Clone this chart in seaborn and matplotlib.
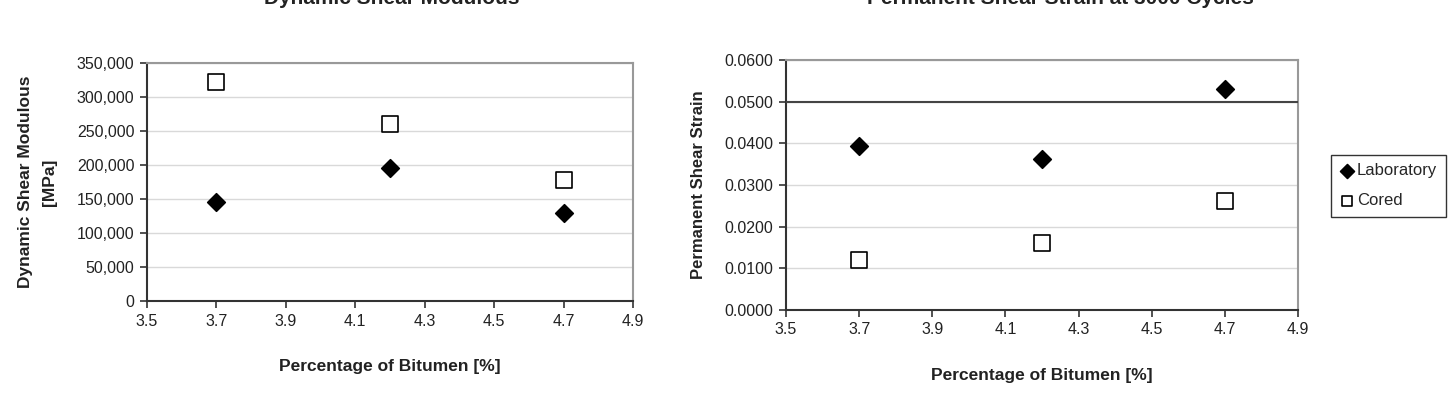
import matplotlib
matplotlib.use('Agg')
import matplotlib.pyplot as plt
import seaborn as sns
import pandas as pd
from matplotlib.ticker import FuncFormatter

# data
bitumen = [3.7, 4.2, 4.7]
modulus_lab = [145500, 195000, 129500]
modulus_cored = [321500, 261000, 177500]
strain_lab = [0.0394, 0.0363, 0.0531]
strain_cored = [0.0119, 0.0161, 0.0261]

sns.set_theme(style='white')
plt.rcParams['font.family'] = ['Liberation Sans', 'DejaVu Sans']

fig = plt.figure(figsize=(14.53, 3.99), dpi=100)
ax1 = fig.add_axes([147 / 1453, 1 - 301 / 399, (633 - 147) / 1453, (301 - 63) / 399])
ax2 = fig.add_axes([786 / 1453, 1 - 310 / 399, (1298 - 786) / 1453, (310 - 60) / 399])

series = [
    ('Laboratory', 'D', 'black', 80),
    ('Cored', 's', 'white', 130),
]


def draw(ax, lab, cored):
    for (name, mk, fc, sz), vals in zip(series, [lab, cored]):
        df = pd.DataFrame({'x': bitumen, 'y': vals})
        sns.scatterplot(data=df, x='x', y='y', ax=ax, marker=mk, s=sz,
                        color=fc, edgecolor='black', linewidth=1.2,
                        label=name, zorder=5)


draw(ax1, modulus_lab, modulus_cored)
draw(ax2, strain_lab, strain_cored)

for ax in (ax1, ax2):
    ax.set_xlim(3.5, 4.9)
    ax.set_xticks([3.5, 3.7, 3.9, 4.1, 4.3, 4.5, 4.7, 4.9])
    ax.xaxis.set_major_formatter(FuncFormatter(lambda v, p: f'{v:.1f}'))
    ax.grid(axis='y', color='#d9d9d9', linewidth=1)
    ax.set_axisbelow(True)
    for s in ('top', 'right'):
        ax.spines[s].set_color('#999999')
        ax.spines[s].set_linewidth(1.5)
    for s in ('left', 'bottom'):
        ax.spines[s].set_color('#333333')
        ax.spines[s].set_linewidth(1.5)
    ax.tick_params(axis='both', which='major', direction='out', length=5,
                   width=1.2, color='#333333', labelsize=11.5, labelcolor='#222222',
                   left=True, bottom=True, pad=4)
    ax.set_xlabel('Percentage of Bitumen [%]', fontsize=12.5, fontweight='bold',
                  color='#222222', labelpad=22)

ax1.set_ylim(0, 350000)
ax1.set_yticks(range(0, 350001, 50000))
ax1.yaxis.set_major_formatter(FuncFormatter(lambda v, p: f'{int(v):,}'))
ax1.set_ylabel('Dynamic Shear Modulous\n[MPa]', fontsize=12.5, fontweight='bold',
               color='#222222', labelpad=14, linespacing=1.75)
ax1.get_legend().remove()

ax2.set_ylim(0, 0.06)
ax2.set_yticks([0, 0.01, 0.02, 0.03, 0.04, 0.05, 0.06])
ax2.yaxis.set_major_formatter(FuncFormatter(lambda v, p: f'{v:.4f}'))
ax2.set_ylabel('Permanent Shear Strain', fontsize=12, fontweight='bold',
               color='#222222', labelpad=13)
ax2.axhline(0.05, color='#444444', linewidth=1.5, zorder=3)

leg = ax2.legend(loc='upper left', bbox_to_anchor=(1.065, 0.62), frameon=True,
                 fancybox=False, edgecolor='black', fontsize=12,
                 handletextpad=0.15, borderpad=0.5, labelspacing=0.9,
                 handlelength=0.9, borderaxespad=0)
leg.get_frame().set_linewidth(1.0)
for h in leg.legend_handles:
    h.set_sizes([50])

# titles sit mostly above the top edge, as in the reference
fig.text(392 / 1453, 1 - 4 / 399, 'Dynamic Shear Modulous', ha='center', va='baseline',
         fontsize=15, fontweight='bold', color='#222222')
fig.text(1060 / 1453, 1 - 4 / 399, 'Permanent Shear Strain at 3000 Cycles', ha='center',
         va='baseline', fontsize=15, fontweight='bold', color='#222222')

fig.savefig('out.png', dpi=100)
